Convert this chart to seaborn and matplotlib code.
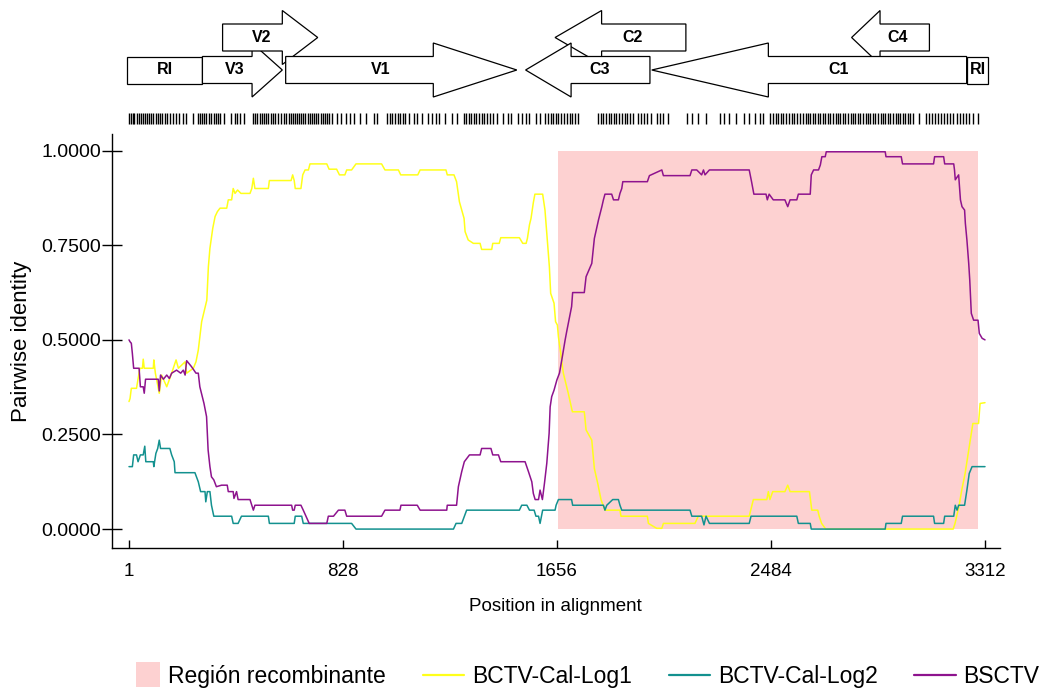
import numpy as np
import pandas as pd
import matplotlib
matplotlib.use("Agg")
import matplotlib.pyplot as plt
import seaborn as sns
from matplotlib.patches import Polygon, Rectangle, Patch
from matplotlib.lines import Line2D
from matplotlib.legend_handler import HandlerPatch

# ---------------- data ----------------
log1_pos = [1, 5, 10, 30, 43, 53, 56, 60, 95, 97, 103, 118, 127, 147, 166, 183, 192, 218, 224, 250,
            260, 269, 282, 302, 308, 314, 325, 334, 343, 353, 379, 385, 398, 404, 411, 421, 434, 469,
            476, 482, 488, 540, 544, 628, 634, 640, 644, 666, 673, 682, 695, 701, 766, 775, 804, 815,
            836, 843, 862, 879, 978, 991, 1043, 1052, 1118, 1127, 1227, 1232, 1258, 1268, 1279, 1297,
            1301, 1313, 1333, 1359, 1365, 1404, 1408, 1433, 1439, 1511, 1524, 1537, 1542, 1550, 1556,
            1565, 1571, 1601, 1610, 1619, 1627, 1632, 1645, 1651, 1658, 1662, 1671, 1681, 1700, 1716,
            1762, 1769, 1791, 1801, 1814, 1827, 1842, 1900, 1904, 2006, 2010, 2042, 2062, 2068, 2190,
            2203, 2400, 2416, 2468, 2474, 2480, 2491, 2538, 2549, 2558, 2633, 2642, 2665, 2671, 2680,
            2696, 3189, 3196, 3211, 3222, 3235, 3248, 3265, 3287, 3293, 3312]
log1_val = [0.337, 0.345, 0.372, 0.372, 0.425, 0.425, 0.449, 0.425, 0.425, 0.447, 0.412, 0.359, 0.407,
            0.376, 0.412, 0.447, 0.425, 0.442, 0.412, 0.425, 0.442, 0.473, 0.548, 0.605, 0.693, 0.742,
            0.795, 0.826, 0.839, 0.848, 0.848, 0.870, 0.870, 0.900, 0.887, 0.896, 0.887, 0.887, 0.900,
            0.927, 0.900, 0.900, 0.921, 0.921, 0.936, 0.921, 0.900, 0.900, 0.936, 0.949, 0.949, 0.965,
            0.965, 0.951, 0.951, 0.936, 0.936, 0.949, 0.949, 0.965, 0.965, 0.949, 0.949, 0.936, 0.936,
            0.949, 0.949, 0.936, 0.936, 0.918, 0.865, 0.821, 0.786, 0.764, 0.755, 0.755, 0.739, 0.739,
            0.755, 0.755, 0.770, 0.770, 0.755, 0.755, 0.768, 0.804, 0.821, 0.863, 0.885, 0.885, 0.843,
            0.764, 0.693, 0.623, 0.597, 0.548, 0.539, 0.508, 0.464, 0.412, 0.359, 0.310, 0.310, 0.262,
            0.235, 0.160, 0.121, 0.077, 0.050, 0.050, 0.034, 0.034, 0.015, 0.002, 0.002, 0.015, 0.015,
            0.034, 0.034, 0.078, 0.078, 0.099, 0.078, 0.099, 0.099, 0.116, 0.099, 0.099, 0.050, 0.050,
            0.033, 0.015, 0.000, 0.000, 0.015, 0.059, 0.103, 0.147, 0.204, 0.279, 0.279, 0.332, 0.334]

log2_pos = [1, 14, 19, 30, 36, 45, 56, 62, 66, 95, 97, 105, 112, 118, 123, 159, 166, 176, 179, 256,
            269, 278, 295, 298, 304, 314, 320, 329, 398, 404, 423, 436, 540, 544, 640, 644, 669, 675,
            862, 879, 1256, 1266, 1288, 1307, 1511, 1520, 1540, 1550, 1568, 1575, 1585, 1591, 1601,
            1649, 1653, 1662, 1713, 1717, 1836, 1842, 1849, 1872, 1894, 1900, 1907, 2171, 2178, 2216,
            2225, 2233, 2246, 2400, 2407, 2584, 2590, 2636, 2640, 2926, 2929, 2988, 2993, 3113, 3117,
            3152, 3156, 3191, 3197, 3204, 3210, 3233, 3242, 3251, 3262, 3312]
log2_val = [0.165, 0.165, 0.196, 0.196, 0.178, 0.196, 0.196, 0.219, 0.178, 0.178, 0.165, 0.200, 0.213,
            0.235, 0.213, 0.213, 0.196, 0.178, 0.149, 0.149, 0.125, 0.099, 0.099, 0.072, 0.099, 0.099,
            0.063, 0.034, 0.034, 0.015, 0.015, 0.034, 0.034, 0.015, 0.015, 0.034, 0.034, 0.015, 0.015,
            0.000, 0.000, 0.015, 0.015, 0.050, 0.050, 0.063, 0.063, 0.050, 0.050, 0.034, 0.034, 0.015,
            0.050, 0.050, 0.063, 0.078, 0.078, 0.063, 0.063, 0.050, 0.063, 0.078, 0.078, 0.063, 0.050,
            0.050, 0.034, 0.034, 0.011, 0.034, 0.015, 0.015, 0.034, 0.034, 0.015, 0.015, 0.000, 0.000,
            0.015, 0.015, 0.034, 0.034, 0.015, 0.015, 0.034, 0.034, 0.063, 0.050, 0.063, 0.063, 0.103,
            0.147, 0.165, 0.165]

bsctv_pos = [1, 5, 10, 14, 19, 40, 45, 56, 60, 65, 114, 118, 123, 134, 147, 157, 166, 185, 201, 211,
             218, 224, 243, 260, 269, 275, 291, 301, 307, 314, 320, 329, 339, 359, 381, 385, 404, 407,
             417, 423, 469, 476, 482, 488, 630, 634, 640, 644, 666, 675, 698, 766, 772, 792, 811, 836,
             843, 978, 991, 1049, 1053, 1116, 1127, 1230, 1232, 1268, 1275, 1288, 1298, 1318, 1359,
             1365, 1401, 1408, 1430, 1439, 1533, 1546, 1559, 1565, 1572, 1585, 1591, 1600, 1608, 1617,
             1626, 1630, 1636, 1645, 1656, 1666, 1675, 1688, 1694, 1713, 1717, 1762, 1769, 1791, 1801,
             1817, 1830, 1836, 1842, 1868, 1875, 1894, 1900, 1907, 1911, 2006, 2014, 2062, 2068, 2171,
             2178, 2197, 2216, 2223, 2229, 2246, 2400, 2409, 2418, 2465, 2470, 2477, 2493, 2538, 2549,
             2558, 2584, 2590, 2636, 2640, 2649, 2668, 2675, 2681, 2694, 2698, 2926, 2929, 2988, 2993,
             3113, 3117, 3152, 3156, 3191, 3194, 3197, 3210, 3217, 3223, 3233, 3236, 3242, 3249, 3253,
             3259, 3268, 3285, 3290, 3301, 3312]
bsctv_val = [0.500, 0.495, 0.491, 0.464, 0.425, 0.425, 0.376, 0.376, 0.359, 0.396, 0.396, 0.365, 0.407,
             0.396, 0.407, 0.398, 0.412, 0.420, 0.412, 0.420, 0.407, 0.445, 0.429, 0.412, 0.412, 0.376,
             0.332, 0.297, 0.209, 0.165, 0.138, 0.130, 0.112, 0.116, 0.116, 0.099, 0.099, 0.081, 0.099,
             0.078, 0.078, 0.063, 0.050, 0.063, 0.063, 0.050, 0.050, 0.063, 0.063, 0.050, 0.015, 0.015,
             0.034, 0.034, 0.050, 0.050, 0.034, 0.034, 0.050, 0.050, 0.063, 0.063, 0.050, 0.050, 0.063,
             0.063, 0.112, 0.152, 0.178, 0.196, 0.196, 0.213, 0.213, 0.196, 0.196, 0.178, 0.178, 0.152,
             0.125, 0.094, 0.078, 0.078, 0.103, 0.078, 0.121, 0.174, 0.253, 0.323, 0.350, 0.367, 0.394,
             0.412, 0.447, 0.500, 0.522, 0.588, 0.625, 0.625, 0.667, 0.702, 0.768, 0.817, 0.852, 0.870,
             0.885, 0.885, 0.870, 0.870, 0.887, 0.900, 0.918, 0.918, 0.934, 0.949, 0.934, 0.934, 0.949,
             0.949, 0.936, 0.949, 0.936, 0.949, 0.949, 0.918, 0.885, 0.885, 0.870, 0.885, 0.870, 0.870,
             0.852, 0.870, 0.870, 0.885, 0.885, 0.936, 0.949, 0.949, 0.962, 0.984, 0.984, 0.997, 0.997,
             0.984, 0.984, 0.965, 0.965, 0.984, 0.984, 0.965, 0.965, 0.949, 0.923, 0.936, 0.870, 0.852,
             0.843, 0.808, 0.764, 0.702, 0.658, 0.570, 0.552, 0.552, 0.517, 0.504, 0.500]

series_names = ["BCTV-Cal-Log1", "BCTV-Cal-Log2", "BSCTV"]
region_label = "Región recombinante"
region_pos = [1660, 3286]

x_ticks = [1, 828, 1656, 2484, 3312]
y_ticks = [0.0, 0.25, 0.5, 0.75, 1.0]

# genome map (alignment coordinates)
gene_names = ["RI", "V3", "V2", "V1", "C2", "C3", "C4", "C1", "RI"]
gene_start = [-6, 285, 363, 607, 1649, 1535, 2796, 2023, 3241]
gene_end = [285, 594, 731, 1501, 2155, 2016, 3097, 3241, 3325]
gene_head = [None, 477, 594, 1178, 1829, 1711, 2906, 2474, None]
gene_strand = [0, 1, 1, 1, -1, -1, -1, -1, 0]
gene_row = [0, 0, 1, 0, 1, 0, 1, 0, 0]

variable_sites = [1, 8, 15, 22, 30, 38, 46, 55, 62, 70, 78, 86, 95, 104, 112, 120, 130, 140, 148, 158,
                  172, 182, 195, 210, 222, 250, 268, 276, 285, 293, 300, 310, 318, 328, 336, 345, 352,
                  370, 395, 410, 420, 432, 447, 482, 490, 498, 506, 515, 524, 532, 540, 550, 558, 567,
                  576, 588, 600, 610, 618, 626, 634, 642, 650, 658, 666, 675, 683, 692, 700, 708, 716,
                  725, 733, 742, 750, 760, 768, 776, 785, 806, 820, 840, 856, 870, 893, 918, 948, 960,
                  1000, 1010, 1020, 1030, 1040, 1050, 1060, 1070, 1085, 1102, 1116, 1133, 1157, 1174,
                  1188, 1200, 1225, 1250, 1270, 1295, 1305, 1315, 1325, 1335, 1345, 1356, 1366, 1376,
                  1386, 1396, 1408, 1426, 1446, 1468, 1480, 1505, 1520, 1535, 1550, 1575, 1590, 1612,
                  1622, 1632, 1642, 1652, 1662, 1672, 1684, 1695, 1706, 1716, 1726, 1736, 1816, 1826,
                  1836, 1846, 1856, 1866, 1876, 1886, 1898, 1908, 1918, 1928, 1938, 1952, 1968, 1980,
                  1992, 2004, 2020, 2044, 2054, 2068, 2084, 2160, 2180, 2200, 2232, 2288, 2302, 2320,
                  2350, 2378, 2398, 2424, 2440, 2452, 2482, 2492, 2502, 2512, 2522, 2532, 2542, 2552,
                  2564, 2574, 2584, 2598, 2607, 2618, 2626, 2637, 2646, 2655, 2666, 2675, 2684, 2694,
                  2705, 2714, 2723, 2734, 2743, 2752, 2763, 2772, 2781, 2792, 2801, 2810, 2821, 2830,
                  2839, 2850, 2859, 2868, 2879, 2888, 2897, 2908, 2917, 2926, 2937, 2946, 2955, 2966,
                  2975, 2984, 2995, 3004, 3013, 3022, 3032, 3058, 3082, 3094, 3106, 3118, 3130, 3142,
                  3154, 3164, 3178, 3190, 3202, 3214, 3228, 3240, 3252, 3264, 3285]

# ---------------- style ----------------
sns.set_theme(style="ticks")
plt.rcParams['font.family'] = ['Liberation Sans', 'DejaVu Sans']
plt.rcParams['text.color'] = 'black'

palette = {"BCTV-Cal-Log1": "#FFFF1A", "BCTV-Cal-Log2": "#13918F", "BSCTV": "#8E138E"}
pink = "#FDD1D1"

W, H = 1042, 690
fig = plt.figure(figsize=(W / 100, H / 100), dpi=100)
xlim = (-66.7, 3370)

ax = fig.add_axes([111.5 / W, (H - 548) / H, (1000 - 111.5) / W, (548 - 134) / H])
ax.fill_between(region_pos, 0, 1, color=pink, lw=0, zorder=0)

df = pd.concat([
    pd.DataFrame({"pos": log1_pos, "identity": log1_val, "series": series_names[0]}),
    pd.DataFrame({"pos": log2_pos, "identity": log2_val, "series": series_names[1]}),
    pd.DataFrame({"pos": bsctv_pos, "identity": bsctv_val, "series": series_names[2]}),
], ignore_index=True)
sns.lineplot(data=df, x="pos", y="identity", hue="series", palette=palette,
             estimator=None, sort=False, legend=False, lw=1.1, ax=ax)

ax.set_xlim(*xlim)
ax.set_ylim(-0.050, 1.044)
ax.set_xticks(x_ticks)
ax.set_xticklabels([str(t) for t in x_ticks])
ax.set_yticks(y_ticks)
ax.set_yticklabels([f"{v:.4f}" for v in y_ticks])
ax.tick_params(axis='x', direction='in', length=6, width=1, pad=11, labelsize=13.5, colors='black')
ax.tick_params(axis='y', direction='inout', length=14.5, width=1, pad=0, labelsize=14, colors='black')
sns.despine(ax=ax)
for s in ["left", "bottom"]:
    ax.spines[s].set_linewidth(1.0)
    ax.spines[s].set_color("black")
ax.set_xlabel("Position in alignment", fontsize=13.5, labelpad=13, color="black")
ax.set_ylabel("Pairwise identity", fontsize=16, labelpad=7, color="black")

# ---------------- genome map ----------------
gax = fig.add_axes([111.5 / W, (H - 130) / H, (1000 - 111.5) / W, 130 / H])
gax.set_xlim(*xlim)
gax.set_ylim(130, 0)
gax.axis("off")

row_center = {0: 70.0, 1: 37.5}
body_half, head_half = 13.5, 27.0
for i, name in enumerate(gene_names):
    c = row_center[gene_row[i]]
    s, e, h, st = gene_start[i], gene_end[i], gene_head[i], gene_strand[i]
    if st == 0:
        pts = [(s, c - body_half), (e, c - body_half), (e, c + body_half), (s, c + body_half)]
        lx = (s + e) / 2
    elif st == 1:
        pts = [(s, c - body_half), (h, c - body_half), (h, c - head_half), (e, c),
               (h, c + head_half), (h, c + body_half), (s, c + body_half)]
        lx = ((s + e) / 2 + (s + h) / 2) / 2
    else:
        pts = [(e, c - body_half), (h, c - body_half), (h, c - head_half), (s, c),
               (h, c + head_half), (h, c + body_half), (e, c + body_half)]
        lx = ((s + e) / 2 + (h + e) / 2) / 2
    gax.add_patch(Polygon(pts, closed=True, facecolor="white", edgecolor="black",
                          lw=0.9, zorder=2 + i))
    gax.text(lx, c, name, ha="center", va="center", fontsize=11.5, fontweight="bold",
             zorder=2 + i, color="black")

gax.vlines(variable_sites, 113, 124, color="black", lw=1.0)

# ---------------- legend ----------------
class SquareHandler(HandlerPatch):
    def create_artists(self, legend, orig_handle, xdescent, ydescent, width, height, fontsize, trans):
        side = height * 1.55
        r = Rectangle((-xdescent + width - side, -ydescent + height / 2 - side / 2), side, side,
                      facecolor=orig_handle.get_facecolor(), edgecolor="none", transform=trans)
        return [r]

handles = [Patch(facecolor=pink, edgecolor="none")] + \
          [Line2D([], [], color=palette[n], lw=1.6) for n in series_names]
labels = [region_label] + series_names
leg = fig.legend(handles, labels, loc="center", bbox_to_anchor=(0.556, 0.02), ncol=4, frameon=False,
                 fontsize=16.5, handlelength=1.8, handletextpad=0.35, columnspacing=1.6,
                 handler_map={Patch: SquareHandler()})
for t in leg.get_texts():
    t.set_color("black")

fig.savefig("out.png", dpi=100)
